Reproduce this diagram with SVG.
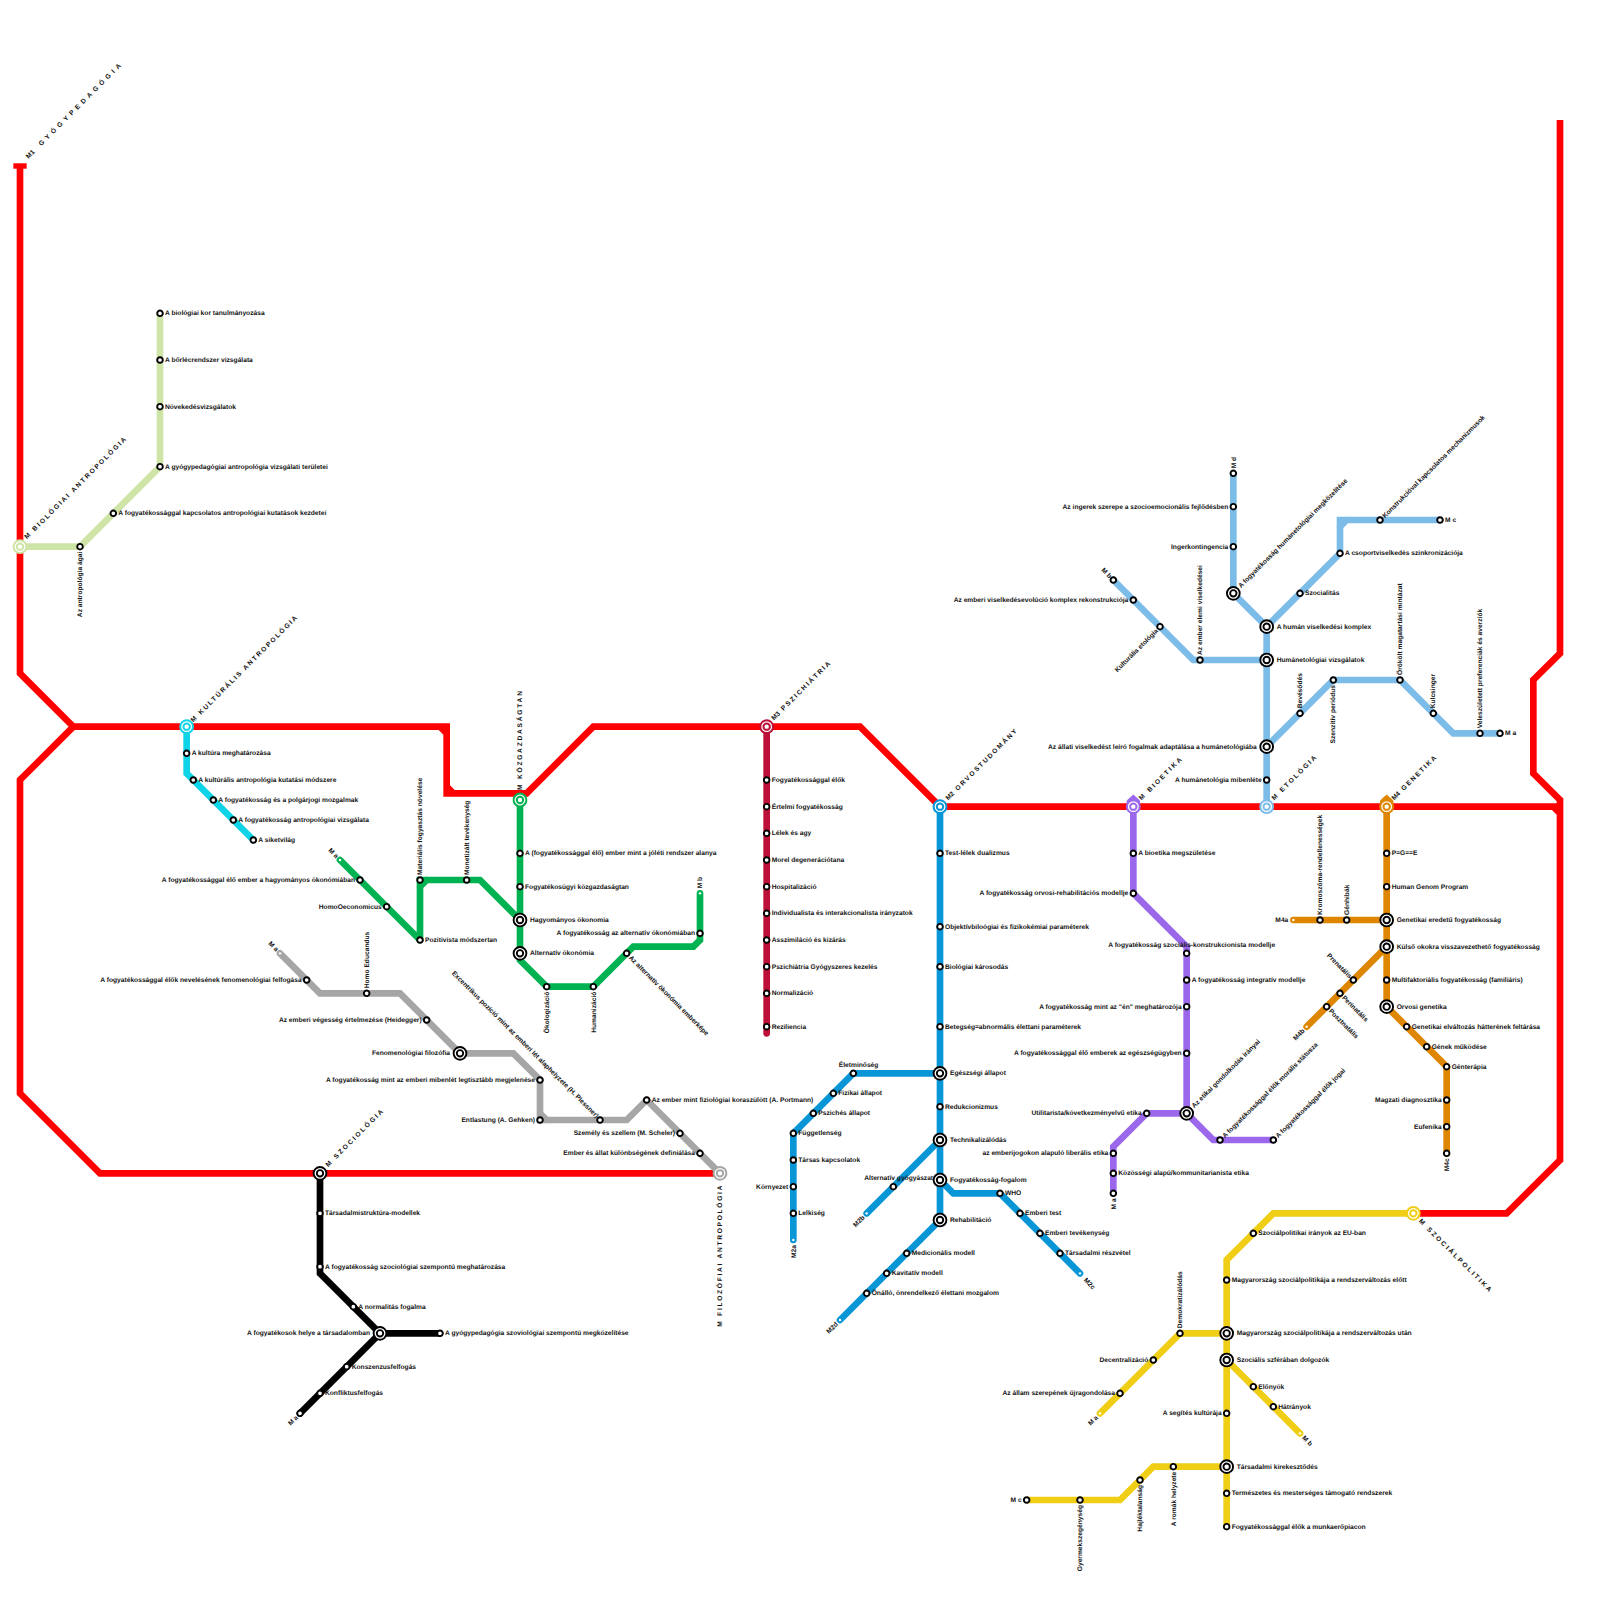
<svg xmlns="http://www.w3.org/2000/svg" width="1600" height="1600" viewBox="0 0 1600 1600">
<style>
text{font:bold 6.67px "Liberation Sans",Arial,sans-serif;fill:#111;text-rendering:geometricPrecision}
.e{text-anchor:end}
.m{text-anchor:middle}
.t{letter-spacing:2px}
.ln{fill:none;stroke-width:6.67;stroke-linecap:round;stroke-linejoin:miter}
.s{fill:#fff;stroke:#000;stroke-width:1.9}
.d{fill:#fff}
.o{fill:#fff;stroke-width:1.9;stroke:#000}
.r{stroke-width:2}
</style>
<defs>
<circle id="s" r="2.8" class="s"/>
<circle id="d" r="1.2" class="d"/>
<g id="i"><circle r="6.4" class="o"/><circle r="3.2" class="o"/></g>
</defs>
<rect width="1600" height="1600" fill="#fff"/>
<g id="connectors">
<path id="l-red" fill="none" stroke="#ff0000" stroke-width="6.67" d="M20 166.67V673.33L73.33 726.67L20 780V1093.33L100 1173.33H720M73.33 726.67H446.67V793.33H526.67L593.33 726.67H860L940 806.67H1560M440 726.67L446.67 733.33M446.67 786.67L453.33 793.33M1560 120V653.33L1533.33 680V773.33L1560 800V1160L1506.67 1213.33H1413.33M1553.33 806.67L1560 813.33"/>
<path fill="none" stroke="#ff0000" stroke-width="5.4" d="M13.33 166H26.67"/>
<path id="l-bio" class="ln" stroke="#cfe4a7" d="M20 546.67H80L160 466.67V313.33"/>
<path id="l-kul" class="ln" stroke="#0fd4e8" d="M186.67 726.67V773.33L253.33 840"/>
<path id="l-koz" class="ln" stroke="#00b251" d="M340 860L420 940M420 940V880H480L520 920M420 886.67L426.67 880M520 800V960L546.67 986.67H593.33L633.33 946.67H693.33L700 940V893.33"/>
<path id="l-fil" class="ln" stroke="#a6a6a6" d="M280 953.33L320 993.33H400L460 1053.33H513.33L540 1080V1120H626.67L646.67 1100M646.67 1100L720 1173.33M540 1113.33L546.67 1120"/>
<path id="l-szo" class="ln" stroke="#000" d="M320 1173.33V1273.33L380 1333.33H440M380 1333.33L300 1413.33"/>
<path id="l-psz" class="ln" stroke="#bd1038" d="M766.67 726.67V1033.33"/>
<path id="l-orv" class="ln" stroke="#0896d7" d="M940 806.67V1220L840 1320M940 1073.33H853.33L793.33 1133.33V1240M940 1140L866.67 1213.33M940 1180L953.33 1193.33H1000L1080 1273.33"/>
<path id="l-bie" class="ln" stroke="#9b68ec" d="M1133.33 806.67V893.33L1186.67 946.67V1113.33M1186.67 1113.33H1146.67L1113.33 1146.67V1193.33M1186.67 1113.33L1213.33 1140H1273.33M1130 802L1133.33 799L1136.67 802"/>
<path id="l-eto" class="ln" stroke="#7bbde8" d="M1266.67 806.67V626.67M1266.67 660H1193.33L1113.33 580M1266.67 626.67L1233.33 593.33V473.33M1266.67 626.67L1340 553.33V520H1440M1340 526.67L1346.67 520M1266.67 746.67L1333.33 680H1400L1453.33 733.33H1500"/>
<path id="l-gen" class="ln" stroke="#df8600" d="M1386.67 806.67V1006.67L1446.67 1066.67V1153.33M1386.67 920H1293.33M1386.67 946.67L1306.67 1026.67M1383.33 802L1386.67 799L1390 802"/>
<path id="l-pol" class="ln" stroke="#f0ce15" d="M1413.33 1213.33H1273.33L1226.67 1260V1526.67M1226.67 1333.33H1180L1100 1413.33M1226.67 1360L1300 1433.33M1226.67 1466.67H1153.33L1120 1500H1026.67"/>
</g>
<g id="titles">
<text transform="translate(28.5,159) rotate(-45)" style="word-spacing:7px">M1 <tspan style="letter-spacing:3.7px">GYÓGYPEDAGÓGIA</tspan></text>
<text style="letter-spacing:1.85px" transform="translate(27,539.3) rotate(-45)">M BIOLÓGIAI ANTROPOLÓGIA</text>
<text style="letter-spacing:1.75px" transform="translate(193.3,722.6) rotate(-45)">M KULTÚRÁLIS ANTROPOLÓGIA</text>
<text style="letter-spacing:1.75px" transform="translate(522.3,790) rotate(-90)">M KÖZGAZDASÁGTAN</text>
<text transform="translate(774,720.6) rotate(-45)" style="word-spacing:2.5px">M3 <tspan style="letter-spacing:1.8px">PSZICHIÁTRIA</tspan></text>
<text transform="translate(948.2,800.6) rotate(-45)" style="word-spacing:2.5px">M2 <tspan style="letter-spacing:1.8px">ORVOSTUDOMÁNY</tspan></text>
<text class="t" transform="translate(1141.6,800.6) rotate(-45)">M BIOETIKA</text>
<text class="t" transform="translate(1274.2,800.6) rotate(-45)">M ETOLÓGIA</text>
<text transform="translate(1394.2,800.6) rotate(-45)" style="word-spacing:2.5px">M4 <tspan style="letter-spacing:1.7px">GENETIKA</tspan></text>
<text class="t" transform="translate(1418.4,1221.6) rotate(45)">M SZOCIÁLPOLITIKA</text>
<text style="letter-spacing:1.7px" transform="translate(722.3,1326.67) rotate(-90)">M FILOZÓFIAI ANTROPOLÓGIA</text>
<text class="t" transform="translate(328.2,1167.2) rotate(-45)">M SZOCIOLÓGIA</text>
</g>
<g id="t-bio"><circle class="r" cx="20" cy="546.67" r="6.4" fill="#fff" stroke="#cfe4a7"/><circle class="r" cx="20" cy="546.67" r="3.2" fill="#fff" stroke="#cfe4a7"/></g>
<g id="t-kul"><circle class="r" cx="186.67" cy="726.67" r="6.4" fill="#fff" stroke="#0fd4e8"/><circle class="r" cx="186.67" cy="726.67" r="3.2" fill="#fff" stroke="#0fd4e8"/></g>
<g id="t-koz"><circle class="r" cx="520" cy="800" r="6.4" fill="#fff" stroke="#00b251"/><circle class="r" cx="520" cy="800" r="3.2" fill="#fff" stroke="#00b251"/></g>
<g id="t-psz"><circle class="r" cx="766.67" cy="726.67" r="6.4" fill="#fff" stroke="#bd1038"/><circle class="r" cx="766.67" cy="726.67" r="3.2" fill="#fff" stroke="#bd1038"/></g>
<g id="t-orv"><circle class="r" cx="940" cy="806.67" r="6.4" fill="#fff" stroke="#0896d7"/><circle class="r" cx="940" cy="806.67" r="3.2" fill="#fff" stroke="#0896d7"/></g>
<g id="t-bie"><circle class="r" cx="1133.33" cy="806.67" r="6.4" fill="#fff" stroke="#9b68ec"/><circle class="r" cx="1133.33" cy="806.67" r="3.2" fill="#fff" stroke="#9b68ec"/></g>
<g id="t-eto"><circle class="r" cx="1266.67" cy="806.67" r="6.4" fill="#fff" stroke="#7bbde8"/><circle class="r" cx="1266.67" cy="806.67" r="3.2" fill="#fff" stroke="#7bbde8"/></g>
<g id="t-gen"><circle class="r" cx="1386.67" cy="806.67" r="6.4" fill="#fff" stroke="#df8600"/><circle class="r" cx="1386.67" cy="806.67" r="3.2" fill="#fff" stroke="#df8600"/></g>
<g id="t-pol"><circle class="r" cx="1413.33" cy="1213.33" r="6.4" fill="#fff" stroke="#f0ce15"/><circle class="r" cx="1413.33" cy="1213.33" r="3.2" fill="#fff" stroke="#f0ce15"/></g>
<g id="t-fil"><circle class="r" cx="720" cy="1173.33" r="6.4" fill="#fff" stroke="#a6a6a6"/><circle class="r" cx="720" cy="1173.33" r="3.2" fill="#fff" stroke="#a6a6a6"/></g>
<g id="t-szo"><use href="#i" x="320" y="1173.33"/></g>

<g id="n-bio1"><use href="#s" x="160" y="313.33"/><text x="165" y="315.4">A biológiai kor tanulmányozása</text></g>
<g id="n-bio2"><use href="#s" x="160" y="360"/><text x="165" y="362">A bőrlécrendszer vizsgálata</text></g>
<g id="n-bio3"><use href="#s" x="160" y="406.67"/><text x="165" y="408.7">Növekedésvizsgálatok</text></g>
<g id="n-bio4"><use href="#s" x="160" y="466.67"/><text x="165" y="468.7">A gyógypedagógiai antropológia vizsgálati területei</text></g>
<g id="n-bio5"><use href="#s" x="113.33" y="513.33"/><text x="118.3" y="515.4">A fogyatékossággal kapcsolatos antropológiai kutatások kezdetei</text></g>
<g id="n-bio6"><use href="#s" x="80" y="546.67"/><text class="e" transform="translate(82.3,551.7) rotate(-90)">Az antropológia ágai</text></g>

<g id="n-kul1"><use href="#s" x="186.67" y="753.33"/><text x="191.7" y="755.4">A kultúra meghatározása</text></g>
<g id="n-kul2"><use href="#s" x="193.33" y="780"/><text x="198.3" y="782">A kultúrális antropológia kutatási módszere</text></g>
<g id="n-kul3"><use href="#s" x="213.33" y="800"/><text x="218.3" y="802">A fogyatékosság és a polgárjogi mozgalmak</text></g>
<g id="n-kul4"><use href="#s" x="233.33" y="820"/><text x="238.3" y="822">A fogyatékosság antropológiai vizsgálata</text></g>
<g id="n-kul5"><use href="#s" x="253.33" y="840"/><text x="258.3" y="842">A siketvilág</text></g>

<g id="n-koz1"><use href="#d" x="340" y="860"/><text class="e" transform="translate(335.8,858.6) rotate(45)">M a</text></g>
<g id="n-koz2"><use href="#s" x="360" y="880"/><text class="e" x="355" y="882">A fogyatékossággal élő ember a hagyományos ökonómiában</text></g>
<g id="n-koz3"><use href="#s" x="386.67" y="906.67"/><text class="e" x="381.7" y="908.7">HomoOeconomicus</text></g>
<g id="n-koz4"><use href="#s" x="420" y="940"/><text x="425" y="942">Pozitivista módszertan</text></g>
<g id="n-koz5"><use href="#s" x="420" y="880"/><text transform="translate(422.3,875) rotate(-90)">Materiális fogyasztás növelése</text></g>
<g id="n-koz6"><use href="#s" x="466.67" y="880"/><text transform="translate(469,875) rotate(-90)">Monetizált tevékenység</text></g>
<g id="n-koz7"><use href="#s" x="520" y="853.33"/><text x="525" y="855.4">A (fogyatékossággal élő) ember mint a jóléti rendszer alanya</text></g>
<g id="n-koz8"><use href="#s" x="520" y="886.67"/><text x="525" y="888.7">Fogyatékosügyi közgazdaságtan</text></g>
<g id="n-koz9"><use href="#i" x="520" y="920"/><text x="530" y="922">Hagyományos ökonomia</text></g>
<g id="n-koz10"><use href="#i" x="520" y="953.33"/><text x="530" y="955.4">Alternatív ökonómia</text></g>
<g id="n-koz11"><use href="#s" x="546.67" y="986.67"/><text class="e" transform="translate(548.9,991.7) rotate(-90)">Ökologizáció</text></g>
<g id="n-koz12"><use href="#s" x="593.33" y="986.67"/><text class="e" transform="translate(595.6,991.7) rotate(-90)">Humanizáció</text></g>
<g id="n-koz13"><use href="#s" x="626.67" y="953.33"/><text transform="translate(628.4,958.2) rotate(45)">Az alternatív ökonómia emberképe</text></g>
<g id="n-koz14"><use href="#s" x="700" y="933.33"/><text class="e" x="695" y="935.4">A fogyatékosság az alternatív ökonómiában</text></g>
<g id="n-koz15"><use href="#d" x="700" y="893.33"/><text transform="translate(702.3,888.3) rotate(-90)">M b</text></g>

<g id="n-fil1"><use href="#d" x="280" y="953.33"/><text class="e" transform="translate(275.8,951.9) rotate(45)">M a</text></g>
<g id="n-fil2"><use href="#s" x="306.67" y="980"/><text class="e" x="301.7" y="982">A fogyatékossággal élők nevelésének fenomenológiai felfogása</text></g>
<g id="n-fil3"><use href="#s" x="366.67" y="993.33"/><text transform="translate(369,988.3) rotate(-90)">Homo Educandus</text></g>
<g id="n-fil4"><use href="#s" x="426.67" y="1020"/><text class="e" x="421.7" y="1022">Az emberi végesség értelmezése (Heidegger)</text></g>
<g id="n-fil5"><use href="#i" x="460" y="1053.33"/><text class="e" x="450" y="1055.4">Fenomenológiai filozófia</text></g>
<g id="n-fil6"><use href="#s" x="540" y="1080"/><text class="e" x="535" y="1082">A fogyatékosság mint az emberi mibenlét legtisztább megjelenése</text></g>
<g id="n-fil7"><use href="#s" x="540" y="1120"/><text class="e" x="535" y="1122">Entlastung (A. Gehken)</text></g>
<g id="n-fil8"><use href="#s" x="600" y="1120"/><text class="e" transform="translate(596.1,1118.3) rotate(45)">Excentrikus pozíció mint az emberi lét alaphelyzete (H. Plessner)</text></g>
<g id="n-fil9"><use href="#s" x="646.67" y="1100"/><text x="651.7" y="1102">Az ember mint fiziológiai koraszülött (A. Portmann)</text></g>
<g id="n-fil10"><use href="#s" x="680" y="1133.33"/><text class="e" x="675" y="1135.4">Személy és szellem (M. Scheler)</text></g>
<g id="n-fil11"><use href="#s" x="700" y="1153.33"/><text class="e" x="695" y="1155.4">Ember és állat különbségének definiálása</text></g>

<g id="n-szo1"><use href="#s" x="320" y="1213.33"/><text x="325" y="1215.4">Társadalmistruktúra-modellek</text></g>
<g id="n-szo2"><use href="#s" x="320" y="1266.67"/><text x="325" y="1268.7">A fogyatékosság szociológiai szempontú meghatározása</text></g>
<g id="n-szo3"><use href="#s" x="353.33" y="1306.67"/><text x="358.3" y="1308.7">A normalitás fogalma</text></g>
<g id="n-szo4"><use href="#i" x="380" y="1333.33"/><text class="e" x="370" y="1335.4">A fogyatékosok helye a társadalomban</text></g>
<g id="n-szo5"><use href="#s" x="440" y="1333.33"/><text x="445" y="1335.4">A gyógypedagógia szoviológiai szempontú megközelítése</text></g>
<g id="n-szo6"><use href="#s" x="346.67" y="1366.67"/><text x="351.7" y="1368.7">Konszenzusfelfogás</text></g>
<g id="n-szo7"><use href="#s" x="320" y="1393.33"/><text x="325" y="1395.4">Konfliktusfelfogás</text></g>
<g id="n-szo8"><use href="#s" x="300" y="1413.33"/><text class="e" transform="translate(298.5,1418) rotate(-45)">M a</text></g>

<g id="n-psz1"><use href="#s" x="766.67" y="780"/><text x="771.7" y="782">Fogyatékossággal élők</text></g>
<g id="n-psz2"><use href="#s" x="766.67" y="806.67"/><text x="771.7" y="808.7">Értelmi fogyatékosság</text></g>
<g id="n-psz3"><use href="#s" x="766.67" y="833.33"/><text x="771.7" y="835.4">Lélek és agy</text></g>
<g id="n-psz4"><use href="#s" x="766.67" y="860"/><text x="771.7" y="862">Morel degenerációtana</text></g>
<g id="n-psz5"><use href="#s" x="766.67" y="886.67"/><text x="771.7" y="888.7">Hospitalizáció</text></g>
<g id="n-psz6"><use href="#s" x="766.67" y="913.33"/><text x="771.7" y="915.4">Individualista és interakcionalista irányzatok</text></g>
<g id="n-psz7"><use href="#s" x="766.67" y="940"/><text x="771.7" y="942">Asszimiláció és kizárás</text></g>
<g id="n-psz8"><use href="#s" x="766.67" y="966.67"/><text x="771.7" y="968.7">Pszichiátria Gyógyszeres kezelés</text></g>
<g id="n-psz9"><use href="#s" x="766.67" y="993.33"/><text x="771.7" y="995.4">Normalizáció</text></g>
<g id="n-psz10"><use href="#s" x="766.67" y="1026.67"/><text x="771.7" y="1028.7">Reziliencia</text></g>

<g id="n-orv1"><use href="#s" x="940" y="853.33"/><text x="945" y="855.4">Test-lélek dualizmus</text></g>
<g id="n-orv2"><use href="#s" x="940" y="926.67"/><text x="945" y="928.7">Objektívbiloógiai és fizikokémiai paraméterek</text></g>
<g id="n-orv3"><use href="#s" x="940" y="966.67"/><text x="945" y="968.7">Biológiai károsodás</text></g>
<g id="n-orv4"><use href="#s" x="940" y="1026.67"/><text x="945" y="1028.7">Betegség=abnormális élettani paraméterek</text></g>
<g id="n-orv5"><use href="#i" x="940" y="1073.33"/><text x="950" y="1075.4">Egészségi állapot</text></g>
<g id="n-orv6"><use href="#s" x="940" y="1106.67"/><text x="945" y="1108.7">Redukcionizmus</text></g>
<g id="n-orv7"><use href="#i" x="940" y="1140"/><text x="950" y="1142">Technikalizálódás</text></g>
<g id="n-orv8"><use href="#i" x="940" y="1180"/><text x="950" y="1182">Fogyatékosság-fogalom</text></g>
<g id="n-orv9"><use href="#i" x="940" y="1220"/><text x="950" y="1222">Rehabilitáció</text></g>
<g id="n-orv10"><use href="#s" x="853.33" y="1073.33"/><text class="m" x="858.6" y="1066.6">Életminőség</text></g>
<g id="n-orv11"><use href="#s" x="833.33" y="1093.33"/><text x="838.3" y="1095.4">Fizikai állapot</text></g>
<g id="n-orv12"><use href="#s" x="813.33" y="1113.33"/><text x="818.3" y="1115.4">Pszichés állapot</text></g>
<g id="n-orv13"><use href="#s" x="793.33" y="1133.33"/><text x="798.3" y="1135.4">Függetlenség</text></g>
<g id="n-orv14"><use href="#s" x="793.33" y="1160"/><text x="798.3" y="1162">Társas kapcsolatok</text></g>
<g id="n-orv15"><use href="#s" x="793.33" y="1186.67"/><text class="e" x="788.3" y="1188.7">Környezet</text></g>
<g id="n-orv16"><use href="#s" x="793.33" y="1213.33"/><text x="798.3" y="1215.4">Lelkiség</text></g>
<g id="n-orv17"><use href="#d" x="793.33" y="1240"/><text class="e" transform="translate(795.6,1245) rotate(-90)">M2a</text></g>
<g id="n-orv18"><use href="#s" x="893.33" y="1186.67"/><text class="m" x="898.7" y="1180">Alternatív gyógyászat</text></g>
<g id="n-orv19"><use href="#d" x="866.67" y="1213.33"/><text class="e" transform="translate(865.2,1218) rotate(-45)">M2b</text></g>
<g id="n-orv20"><use href="#s" x="1000" y="1193.33"/><text x="1005" y="1195.4">WHO</text></g>
<g id="n-orv21"><use href="#s" x="1020" y="1213.33"/><text x="1025" y="1215.4">Emberi test</text></g>
<g id="n-orv22"><use href="#s" x="1040" y="1233.33"/><text x="1045" y="1235.4">Emberi tevékenység</text></g>
<g id="n-orv23"><use href="#s" x="1060" y="1253.33"/><text x="1065" y="1255.4">Társadalmi részvétel</text></g>
<g id="n-orv24"><use href="#d" x="1080" y="1273.33"/><text transform="translate(1083.4,1280.6) rotate(45)">M2c</text></g>
<g id="n-orv25"><use href="#s" x="906.67" y="1253.33"/><text x="911.7" y="1255.4">Medicionális modell</text></g>
<g id="n-orv26"><use href="#s" x="886.67" y="1273.33"/><text x="891.7" y="1275.4">Kavitatív modell</text></g>
<g id="n-orv27"><use href="#s" x="866.67" y="1293.33"/><text x="871.7" y="1295.4">Önálló, önrendelkező élettani mozgalom</text></g>
<g id="n-orv28"><use href="#d" x="840" y="1320"/><text class="e" transform="translate(838.5,1324.7) rotate(-45)">M2d</text></g>

<g id="n-bie1"><use href="#s" x="1133.33" y="853.33"/><text x="1138.3" y="855.4">A bioetika megszületése</text></g>
<g id="n-bie2"><use href="#s" x="1133.33" y="893.33"/><text class="e" x="1128.3" y="895.4">A fogyatékosság orvosi-rehabilitációs modellje</text></g>
<g id="n-bie3"><use href="#s" x="1186.67" y="953.33"/><text class="m" x="1191.7" y="946.6">A fogyatékosság szociális-konstrukcionista modellje</text></g>
<g id="n-bie4"><use href="#s" x="1186.67" y="980"/><text x="1191.7" y="982">A fogyatékosság integratív modellje</text></g>
<g id="n-bie5"><use href="#s" x="1186.67" y="1006.67"/><text class="e" x="1181.7" y="1008.7">A fogyatékosság mint az "én" meghatározója</text></g>
<g id="n-bie6"><use href="#s" x="1186.67" y="1053.33"/><text class="e" x="1181.7" y="1055.4">A fogyatékossággal élő emberek az egészségügyben</text></g>
<g id="n-bie7"><use href="#i" x="1186.67" y="1113.33"/><text transform="translate(1194.3,1108.3) rotate(-45)">Az etikai gondolkodás irányai</text></g>
<g id="n-bie8"><use href="#s" x="1146.67" y="1113.33"/><text class="e" x="1141.7" y="1115.4">Utilitarista/következményelvű etika</text></g>
<g id="n-bie9"><use href="#s" x="1113.33" y="1153.33"/><text class="e" x="1108.3" y="1155.4">az emberijogokon alapuló liberális etika</text></g>
<g id="n-bie10"><use href="#s" x="1113.33" y="1173.33"/><text x="1118.3" y="1175.4">Közösségi alapú/kommunitarianista etika</text></g>
<g id="n-bie11"><use href="#s" x="1113.33" y="1193.33"/><text class="e" transform="translate(1115.6,1198.3) rotate(-90)">M a</text></g>
<g id="n-bie12"><use href="#s" x="1220" y="1140"/><text transform="translate(1225,1138.3) rotate(-45)">A fogyatékossággal élők morális státusza</text></g>
<g id="n-bie13"><use href="#s" x="1273.33" y="1140"/><text transform="translate(1278.3,1138.3) rotate(-45)">A fogyatékossággal élők jogai</text></g>

<g id="n-eto1"><use href="#s" x="1266.67" y="780"/><text class="e" x="1261.7" y="782">A humánetológia mibenléte</text></g>
<g id="n-eto2"><use href="#i" x="1266.67" y="746.67"/><text class="e" x="1256.7" y="748.7">Az állati viselkedést leíró fogalmak adaptálása a humánetológiába</text></g>
<g id="n-eto3"><use href="#i" x="1266.67" y="660"/><text x="1276.7" y="662">Humánetológiai vizsgálatok</text></g>
<g id="n-eto4"><use href="#i" x="1266.67" y="626.67"/><text x="1276.7" y="628.7">A humán viselkedési komplex</text></g>
<g id="n-eto5"><use href="#s" x="1200" y="660"/><text transform="translate(1202.3,655) rotate(-90)">Az ember elemi viselkedései</text></g>
<g id="n-eto6"><use href="#s" x="1160" y="626.67"/><text class="e" transform="translate(1158.5,631.4) rotate(-45)">Kulturális etológia</text></g>
<g id="n-eto7"><use href="#s" x="1133.33" y="600"/><text class="e" x="1128.3" y="602">Az emberi viselkedésevolúció komplex rekonstrukciója</text></g>
<g id="n-eto8"><use href="#s" x="1113.33" y="580"/><text class="e" transform="translate(1109.1,578.6) rotate(45)">M b</text></g>
<g id="n-eto9"><use href="#i" x="1233.33" y="593.33"/><text transform="translate(1240.9,588.3) rotate(-45)">A fogyatékosság humánetológiai megközelítése</text></g>
<g id="n-eto10"><use href="#s" x="1233.33" y="546.67"/><text class="e" x="1228.3" y="548.7">Ingerkontingencia</text></g>
<g id="n-eto11"><use href="#s" x="1233.33" y="506.67"/><text class="e" x="1228.3" y="508.7">Az ingerek szerepe a szocioemocionális fejlődésben</text></g>
<g id="n-eto12"><use href="#s" x="1233.33" y="473.33"/><text transform="translate(1235.6,468.3) rotate(-90)">M d</text></g>
<g id="n-eto13"><use href="#s" x="1300" y="593.33"/><text x="1305" y="595.4">Szocialitás</text></g>
<g id="n-eto14"><use href="#s" x="1340" y="553.33"/><text x="1345" y="555.4">A csoportviselkedés szinkronizációja</text></g>
<g id="n-eto15"><use href="#s" x="1380" y="520"/><text transform="translate(1385,518.3) rotate(-45)">Konstrukcióval kapcsolatos mechanizmusok</text></g>
<g id="n-eto16"><use href="#s" x="1440" y="520"/><text x="1445" y="522">M c</text></g>
<g id="n-eto17"><use href="#s" x="1300" y="713.33"/><text transform="translate(1301.6,708.3) rotate(-90)">Bevésődés</text></g>
<g id="n-eto18"><use href="#s" x="1333.33" y="680"/><text class="e" transform="translate(1335,685) rotate(-90)">Szenzitív periódus</text></g>
<g id="n-eto19"><use href="#s" x="1400" y="680"/><text transform="translate(1402.3,675) rotate(-90)">Örökölt magatartási mintázat</text></g>
<g id="n-eto20"><use href="#s" x="1433.33" y="713.33"/><text transform="translate(1435,708.3) rotate(-90)">Kulcsinger</text></g>
<g id="n-eto21"><use href="#s" x="1480" y="733.33"/><text transform="translate(1482.3,728.3) rotate(-90)">Veleszületett preferenciák és averziók</text></g>
<g id="n-eto22"><use href="#s" x="1500" y="733.33"/><text x="1505" y="735.4">M a</text></g>

<g id="n-gen1"><use href="#s" x="1386.67" y="853.33"/><text x="1391.7" y="855.4">P=G==E</text></g>
<g id="n-gen2"><use href="#s" x="1386.67" y="886.67"/><text x="1391.7" y="888.7">Human Genom Program</text></g>
<g id="n-gen3"><use href="#i" x="1386.67" y="920"/><text x="1396.7" y="922">Genetikai eredetű fogyatékosság</text></g>
<g id="n-gen4"><use href="#i" x="1386.67" y="946.67"/><text x="1396.7" y="948.7">Külső okokra visszavezethető fogyatékosság</text></g>
<g id="n-gen5"><use href="#s" x="1386.67" y="980"/><text x="1391.7" y="982">Multifaktoriális fogyatékosság (familiáris)</text></g>
<g id="n-gen6"><use href="#i" x="1386.67" y="1006.67"/><text x="1396.7" y="1008.7">Orvosi genetika</text></g>
<g id="n-gen7"><use href="#d" x="1293.33" y="920"/><text class="e" x="1288.3" y="922">M4a</text></g>
<g id="n-gen8"><use href="#s" x="1320" y="920"/><text transform="translate(1322.3,915) rotate(-90)">Kromoszóma-rendellenességek</text></g>
<g id="n-gen9"><use href="#s" x="1346.67" y="920"/><text transform="translate(1349,915) rotate(-90)">Génhibák</text></g>
<g id="n-gen10"><use href="#s" x="1353.33" y="980"/><text class="e" transform="translate(1349.1,978.6) rotate(45)">Prenatális</text></g>
<g id="n-gen11"><use href="#s" x="1340" y="993.33"/><text transform="translate(1341.7,998.2) rotate(45)">Perinatális</text></g>
<g id="n-gen12"><use href="#s" x="1326.67" y="1006.67"/><text transform="translate(1328.4,1011.5) rotate(45)">Posztnatális</text></g>
<g id="n-gen13"><use href="#d" x="1306.67" y="1026.67"/><text class="e" transform="translate(1305.2,1031.4) rotate(-45)">M4b</text></g>
<g id="n-gen14"><use href="#s" x="1406.67" y="1026.67"/><text x="1411.7" y="1028.7">Genetikai elváltozás hátterének feltárása</text></g>
<g id="n-gen15"><use href="#s" x="1426.67" y="1046.67"/><text x="1431.7" y="1048.7">Gének működése</text></g>
<g id="n-gen16"><use href="#s" x="1446.67" y="1066.67"/><text x="1451.7" y="1068.7">Génterápia</text></g>
<g id="n-gen17"><use href="#s" x="1446.67" y="1100"/><text class="e" x="1441.7" y="1102">Magzati diagnosztika</text></g>
<g id="n-gen18"><use href="#s" x="1446.67" y="1126.67"/><text class="e" x="1441.7" y="1128.7">Eufenika</text></g>
<g id="n-gen19"><use href="#s" x="1446.67" y="1153.33"/><text class="e" transform="translate(1449,1158.3) rotate(-90)">M4c</text></g>

<g id="n-pol1"><use href="#s" x="1253.33" y="1233.33"/><text x="1258.3" y="1235.4">Szociálpolitikai irányok az EU-ban</text></g>
<g id="n-pol2"><use href="#s" x="1226.67" y="1280"/><text x="1231.7" y="1282">Magyarország szociálpolitikája a rendszerváltozás előtt</text></g>
<g id="n-pol3"><use href="#i" x="1226.67" y="1333.33"/><text x="1236.7" y="1335.4">Magyarország szociálpolitikája a rendszerváltozás után</text></g>
<g id="n-pol4"><use href="#i" x="1226.67" y="1360"/><text x="1236.7" y="1362">Szociális szférában dolgozók</text></g>
<g id="n-pol5"><use href="#s" x="1226.67" y="1413.33"/><text class="e" x="1221.7" y="1415.4">A segítés kultúrája</text></g>
<g id="n-pol6"><use href="#i" x="1226.67" y="1466.67"/><text x="1236.7" y="1468.7">Társadalmi kirekesztődés</text></g>
<g id="n-pol7"><use href="#s" x="1226.67" y="1493.33"/><text x="1231.7" y="1495.4">Természetes és mesterséges támogató rendszerek</text></g>
<g id="n-pol8"><use href="#s" x="1226.67" y="1526.67"/><text x="1231.7" y="1528.7">Fogyatékossággal élők a munkaerőpiacon</text></g>
<g id="n-pol9"><use href="#s" x="1180" y="1333.33"/><text transform="translate(1182.3,1328.3) rotate(-90)">Demokratizálódás</text></g>
<g id="n-pol10"><use href="#s" x="1153.33" y="1360"/><text class="e" x="1148.3" y="1362">Decentralizáció</text></g>
<g id="n-pol11"><use href="#s" x="1120" y="1393.33"/><text class="e" x="1115" y="1395.4">Az állam szerepének újragondolása</text></g>
<g id="n-pol12"><use href="#d" x="1100" y="1413.33"/><text class="e" transform="translate(1098.5,1418) rotate(-45)">M a</text></g>
<g id="n-pol13"><use href="#s" x="1253.33" y="1386.67"/><text x="1258.3" y="1388.7">Előnyök</text></g>
<g id="n-pol14"><use href="#s" x="1273.33" y="1406.67"/><text x="1278.3" y="1408.7">Hátrányok</text></g>
<g id="n-pol15"><use href="#d" x="1300" y="1433.33"/><text transform="translate(1301.7,1438.2) rotate(45)">M b</text></g>
<g id="n-pol16"><use href="#s" x="1173.33" y="1466.67"/><text class="e" transform="translate(1175.6,1471.7) rotate(-90)">A romák helyzete</text></g>
<g id="n-pol17"><use href="#s" x="1140" y="1480"/><text class="e" transform="translate(1142.3,1485) rotate(-90)">Hajléktalanság</text></g>
<g id="n-pol18"><use href="#s" x="1080" y="1500"/><text class="e" transform="translate(1082.3,1505) rotate(-90)">Gyermekszegénység</text></g>
<g id="n-pol19"><use href="#s" x="1026.67" y="1500"/><text class="e" x="1021.7" y="1502">M c</text></g>
</svg>
